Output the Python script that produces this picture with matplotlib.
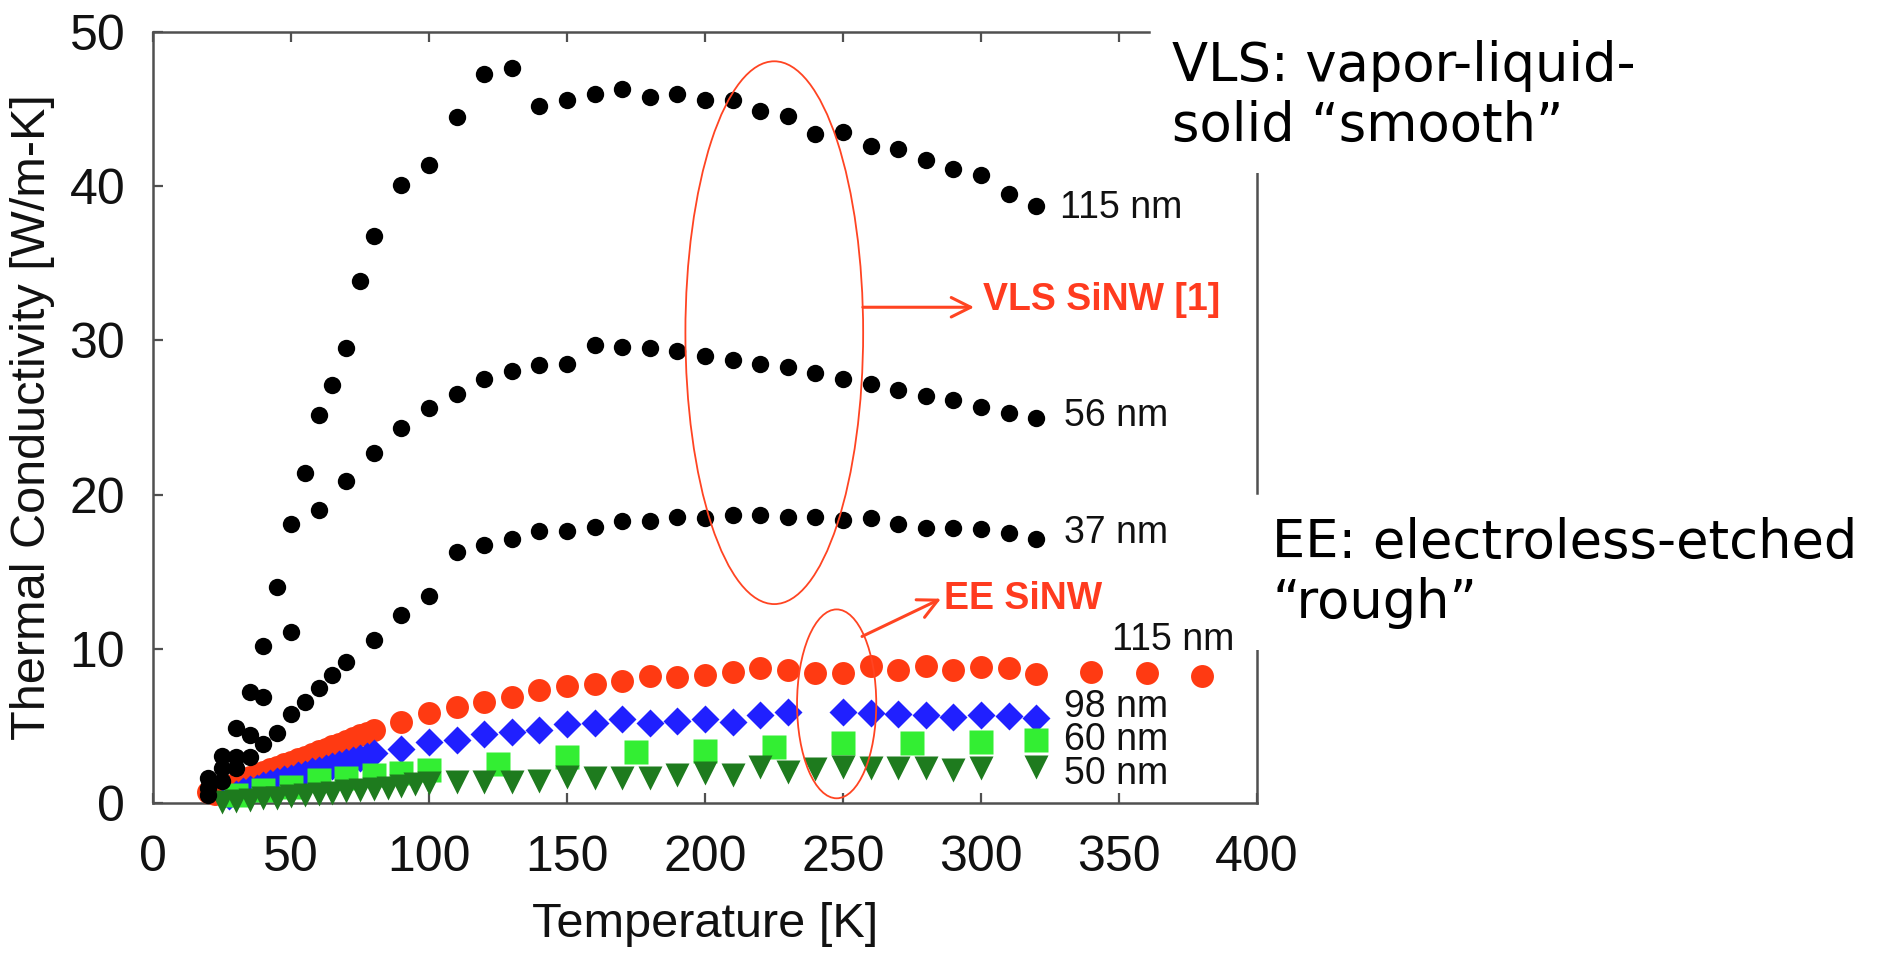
import matplotlib
matplotlib.use("Agg")
import matplotlib.pyplot as plt
from matplotlib.patches import Ellipse, FancyArrowPatch
from matplotlib.lines import Line2D

# ---------------- data ----------------
# VLS (smooth) nanowires
T_vls115 = [20, 25, 30, 35, 40, 45, 50, 55, 60, 65, 70, 75, 80, 90, 100, 110, 120, 130, 140, 150,
            160, 170, 180, 190, 200, 210, 220, 230, 240, 250, 260, 270, 280, 290, 300, 310, 320]
K_vls115 = [1.6, 3.05, 4.85, 7.2, 10.2, 14.0, 18.1, 21.4, 25.15, 27.1, 29.5, 33.85, 36.8, 40.05, 41.4,
            44.5, 47.3, 47.65, 45.2, 45.6, 45.95, 46.3, 45.8, 45.95, 45.6, 45.6, 44.9, 44.55, 43.4,
            43.5, 42.6, 42.4, 41.7, 41.1, 40.7, 39.5, 38.7]

T_vls56 = [20, 25, 30, 35, 40, 50, 60, 70, 80, 90, 100, 110, 120, 130, 140, 150, 160, 170, 180,
           190, 200, 210, 220, 230, 240, 250, 260, 270, 280, 290, 300, 310, 320]
K_vls56 = [1.0, 2.3, 3.0, 4.4, 6.85, 11.1, 19.0, 20.9, 22.7, 24.3, 25.6, 26.55, 27.5, 28.0, 28.4,
           28.5, 29.7, 29.6, 29.5, 29.3, 29.0, 28.7, 28.5, 28.3, 27.9, 27.5, 27.2, 26.8, 26.4,
           26.15, 25.7, 25.3, 24.95]

T_vls37 = [20, 25, 30, 35, 40, 45, 50, 55, 60, 65, 70, 80, 90, 100, 110, 120, 130, 140, 150, 160,
           170, 180, 190, 200, 210, 220, 230, 240, 250, 260, 270, 280, 290, 300, 310, 320]
K_vls37 = [0.5, 1.4, 2.3, 3.0, 3.8, 4.56, 5.77, 6.57, 7.43, 8.3, 9.15, 10.6, 12.2, 13.4, 16.3, 16.7,
           17.15, 17.65, 17.65, 17.9, 18.3, 18.3, 18.55, 18.5, 18.7, 18.7, 18.55, 18.55, 18.35,
           18.5, 18.1, 17.85, 17.85, 17.75, 17.5, 17.15]

# EE (rough) nanowires
T_ee115 = [20, 22.5, 25, 27.5, 30, 32.5, 35, 37.5, 40, 42.5, 45, 47.5, 50, 52.5, 55, 57.5, 60, 62.5,
           65, 67.5, 70, 72.5, 75, 77.5, 80, 90, 100, 110, 120, 130, 140, 150, 160, 170, 180, 190,
           200, 210, 220, 230, 240, 250, 260, 270, 280, 290, 300, 310, 320, 340, 360, 380]
K_ee115 = [0.7, 0.6, 0.9, 1.1, 1.3, 1.5, 1.7, 1.85, 2.0, 2.2, 2.35, 2.5, 2.65, 2.85, 3.0, 3.15, 3.35,
           3.5, 3.7, 3.85, 4.05, 4.2, 4.4, 4.55, 4.73, 5.27, 5.81, 6.24, 6.57, 6.89, 7.32, 7.58,
           7.71, 7.93, 8.23, 8.19, 8.3, 8.51, 8.73, 8.62, 8.4, 8.4, 8.88, 8.62, 8.88, 8.62, 8.79,
           8.73, 8.36, 8.51, 8.4, 8.23]

T_ee98 = [27.5, 30, 32.5, 35, 37.5, 40, 42.5, 45, 47.5, 50, 52.5, 55, 57.5, 60, 62.5, 65, 67.5, 70,
          72.5, 75, 77.5, 80, 90, 100, 110, 120, 130, 140, 150, 160, 170, 180, 190, 200, 210, 220,
          230, 250, 260, 270, 280, 290, 300, 310, 320]
K_ee98 = [0.45, 0.6, 0.75, 0.9, 1.0, 1.15, 1.3, 1.4, 1.55, 1.65, 1.8, 1.9, 2.05, 2.15, 2.3, 2.4,
          2.55, 2.65, 2.8, 2.9, 3.05, 3.22, 3.48, 3.97, 4.08, 4.47, 4.62, 4.73, 5.12, 5.16, 5.42,
          5.2, 5.33, 5.42, 5.27, 5.7, 5.92, 5.92, 5.85, 5.77, 5.7, 5.6, 5.7, 5.64, 5.49]

T_ee60 = [30, 40, 50, 60, 70, 80, 90, 100, 125, 150, 175, 200, 225, 250, 275, 300, 320]
K_ee60 = [0.55, 0.84, 1.06, 1.49, 1.6, 1.81, 1.96, 2.14, 2.53, 3.0, 3.32, 3.39, 3.61, 3.87, 3.87,
          3.97, 4.08]

T_ee50 = [25, 30, 35, 40, 45, 50, 55, 60, 65, 70, 75, 80, 85, 90, 95, 100, 110, 120, 130, 140, 150,
          160, 170, 180, 190, 200, 210, 220, 230, 240, 250, 260, 270, 280, 290, 300, 320]
K_ee50 = [0.05, 0.15, 0.2, 0.3, 0.35, 0.45, 0.5, 0.6, 0.65, 0.75, 0.85, 0.9, 1.0, 1.1, 1.2, 1.32,
          1.38, 1.38, 1.38, 1.45, 1.7, 1.6, 1.6, 1.6, 1.81, 1.92, 1.81, 2.31, 2.03, 2.18, 2.31,
          2.25, 2.25, 2.25, 2.14, 2.25, 2.31]

x_ticks = [0, 50, 100, 150, 200, 250, 300, 350, 400]
y_ticks = [0, 10, 20, 30, 40, 50]

# ---------------- figure ----------------
plt.rcParams['font.family'] = ['Liberation Sans', 'DejaVu Sans']
W, H, DPI = 1885, 956, 100
fig = plt.figure(figsize=(W / DPI, H / DPI), dpi=DPI)
ax = fig.add_axes([153 / W, 1 - 803 / H, (1257 - 153) / W, (803 - 32) / H])

spine_col = '#505050'
for Tv, Kv in ((T_vls115, K_vls115), (T_vls56, K_vls56), (T_vls37, K_vls37)):
    ax.plot(Tv, Kv, 'o', color='black', ms=12.5, mec='none', zorder=4, clip_on=False)

ax.plot(T_ee115, K_ee115, 'o', color='#ff3a12', ms=16.5, mec='none', zorder=3, clip_on=False)
ax.plot(T_ee98, K_ee98, 'D', color='#2020ff', ms=14, mec='none', zorder=3, clip_on=False)
ax.plot(T_ee60, K_ee60, 's', color='#33ee33', ms=17.5, mec='none', zorder=3, clip_on=False)
ax.plot(T_ee50, K_ee50, 'v', color='#1e7b1e', ms=17.5, mec='none', zorder=3, clip_on=False)

ax.set_xlim(0, 400)
ax.set_ylim(0, 50)
ax.set_xticks(x_ticks)
ax.set_yticks(y_ticks)
ax.tick_params(direction='in', length=7, width=1.6, color=spine_col, top=True, right=False,
               labelsize=36, labelcolor='#111111')
ax.tick_params(axis='x', pad=23)
ax.tick_params(axis='y', pad=20)

for s in ax.spines.values():
    s.set_color(spine_col)
    s.set_linewidth(1.8)
ax.spines['top'].set_bounds(0, 361)
ax.spines['right'].set_bounds(0, 10.4)
ax.add_line(Line2D([1, 1], [20.1, 41.4], color=spine_col, lw=1.8,
                   transform=ax.get_yaxis_transform(), clip_on=False))

ax.set_xlabel('Temperature [K]', fontsize=35, color='#111111')
ax.set_ylabel('Thermal Conductivity [W/m-K]', fontsize=35, color='#111111')
ax.xaxis.set_label_coords(0.5, -0.128)
ax.yaxis.set_label_coords(-0.089, 0.5)

# annotations
red = '#ff4422'
ax.add_patch(Ellipse((225.1, 30.5), 64.4, 35.2, fill=False, ec=red, lw=1.3, zorder=5))
ax.add_patch(Ellipse((247.7, 6.43), 28.7, 12.25, fill=False, ec=red, lw=1.3, zorder=5))
ax.add_patch(FancyArrowPatch((257.2, 32.15), (297.5, 32.15), arrowstyle='->,head_length=0.7,head_width=0.35',
                             mutation_scale=20, color=red, lw=2.2, shrinkA=0, shrinkB=0, zorder=5))
ax.add_patch(FancyArrowPatch((256.9, 10.8), (285.5, 13.25), arrowstyle='->,head_length=0.7,head_width=0.35',
                             mutation_scale=20, color=red, lw=2.2, shrinkA=0, shrinkB=0, zorder=5))
ax.text(300.8, 32.65, 'VLS SiNW [1]', color='#ff3b1f', fontsize=27, fontweight='bold',
        ha='left', va='center', zorder=6)
ax.text(286.7, 13.25, 'EE SiNW', color='#ff3b1f', fontsize=27, fontweight='bold',
        ha='left', va='center', zorder=6)

lab_kw = dict(fontsize=27, color='#111111', ha='left', va='center', zorder=6, clip_on=False)
ax.text(328.8, 38.6, '115 nm', **lab_kw)
ax.text(330.0, 25.1, '56 nm', **lab_kw)
ax.text(330.0, 17.5, '37 nm', **lab_kw)
ax.text(347.4, 10.6, '115 nm', **lab_kw)
ax.text(330.0, 6.2, '98 nm', **lab_kw)
ax.text(330.0, 4.08, '60 nm', **lab_kw)
ax.text(330.0, 1.85, '50 nm', **lab_kw)

box = dict(boxstyle='square,pad=0.4', facecolor='white', edgecolor='none')
fig.text(1172 / W, 1 - 40 / H, 'VLS: vapor-liquid-\nsolid \u201csmooth\u201d', fontsize=38,
         family='DejaVu Sans', color='black', ha='left', va='top', bbox=box, zorder=10)
fig.text(1272 / W, 1 - 517 / H, 'EE: electroless-etched\n\u201crough\u201d', fontsize=38,
         family='DejaVu Sans', color='black', ha='left', va='top', bbox=box, zorder=10)

fig.savefig('out.png', dpi=DPI, facecolor='white')
